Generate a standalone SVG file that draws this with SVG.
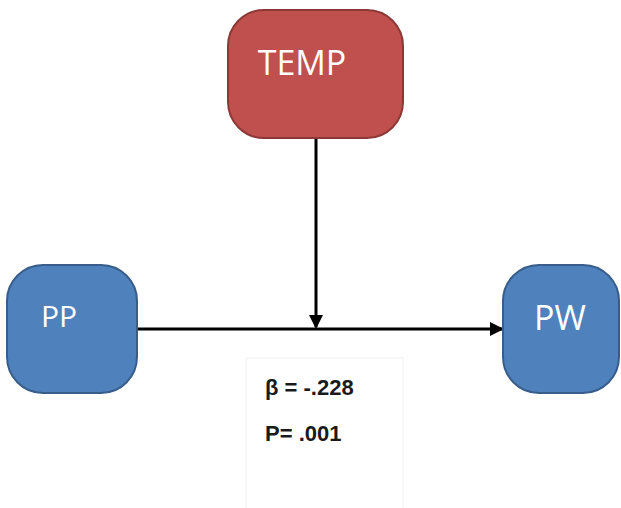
<svg xmlns="http://www.w3.org/2000/svg" width="621" height="508" viewBox="0 0 621 508">
<style>
.node-red{fill:#c0504d;stroke:#8c3836;stroke-width:2}
.node-blue{fill:#4f81bd;stroke:#385d8a;stroke-width:2}
.lbl{font-family:"Open Sans","Liberation Sans",sans-serif;fill:#ffffff;text-anchor:middle}
.conn{stroke:#000;stroke-width:3;fill:none}
.stat{font-family:"Liberation Sans",sans-serif;font-weight:bold;font-size:22px;fill:#1a1a1a}
</style>
<defs>
<marker id="ah2" markerWidth="14" markerHeight="14" refX="12" refY="7" orient="auto" markerUnits="userSpaceOnUse" viewBox="0 0 14 14">
<path d="M0,0 L14,7 L0,14 Z" fill="#000"/>
</marker>
</defs>
<rect width="621" height="508" fill="#fff"/>
<g id="connectors">
<line class="conn" x1="137" y1="329" x2="502" y2="329" marker-end="url(#ah2)"/>
<line class="conn" x1="316" y1="139" x2="316" y2="327" marker-end="url(#ah2)"/>
</g>
<g id="TEMP">
<rect class="node-red" x="228" y="10" width="175" height="128" rx="36"/>
<text class="lbl" x="302" y="75" font-size="34">TEMP</text>
</g>
<g id="PP">
<rect class="node-blue" x="7" y="265" width="130" height="128" rx="36"/>
<text class="lbl" x="59" y="327" font-size="30">PP</text>
</g>
<g id="PW">
<rect class="node-blue" x="503" y="265" width="116" height="128" rx="36"/>
<text class="lbl" x="560" y="330" font-size="34">PW</text>
</g>
<g id="stats">
<rect x="246" y="358" width="157" height="152" fill="#fff" stroke="#f2f2f2" stroke-width="1"/>
<text class="stat" x="265" y="395">β = -.228</text>
<text class="stat" x="265" y="441">P= .001</text>
</g>
</svg>
